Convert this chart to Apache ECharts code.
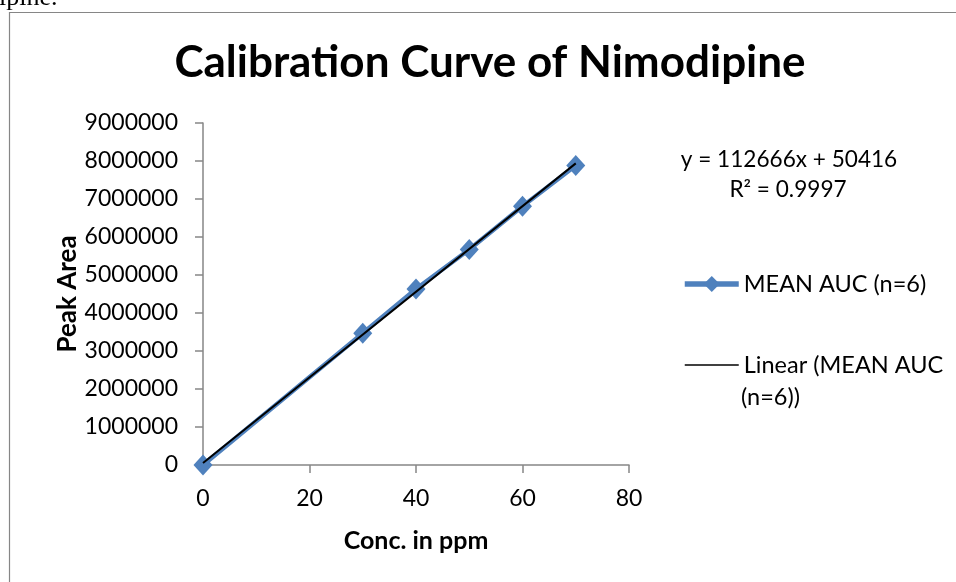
<!DOCTYPE html>
<html>
<head>
<meta charset="utf-8">
<script src="https://cdn.jsdelivr.net/npm/echarts@6/dist/echarts.min.js"></script>
<style>
html,body{margin:0;padding:0;background:#fff;}
#c{width:956px;height:582px;}
</style>
</head>
<body>
<div id="c"></div>
<script>
// Data
const concentrations = [0, 30, 40, 50, 60, 70];
const meanAUC = [0, 3470000, 4630000, 5670000, 6810000, 7880000];
const trendX = [0, 70];
const trendY = [50416, 7937036];
const equationText = 'y = 112666x + 50416';
const r2Text = 'R² = 0.9997';
const seriesName = 'MEAN AUC (n=6)';
const trendName = 'Linear (MEAN AUC (n=6))';

const FONT = 'Lato';
const chart = echarts.init(document.getElementById('c'), null, {renderer: 'canvas'});

const option = {
  backgroundColor: '#ffffff',
  animation: false,
  title: {
    text: 'Calibra\u200Ction Curve of Nimodipine',
    left: 490,
    top: 41,
    padding: 0,
    textAlign: 'center',
    textStyle: {fontFamily: FONT, fontSize: 44, fontWeight: 'bold', color: '#000'}
  },
  grid: {left: 203, right: 327, top: 123, bottom: 117, containLabel: false},
  xAxis: {
    type: 'value',
    min: 0, max: 80, interval: 20,
    name: 'Conc. in ppm',
    nameLocation: 'middle',
    nameGap: 63,
    nameTextStyle: {fontFamily: FONT, fontSize: 25, fontWeight: 'bold', color: '#000'},
    axisLine: {show: true, lineStyle: {color: '#868686', width: 1.5}},
    axisTick: {show: true, length: 8, inside: false, lineStyle: {color: '#868686', width: 1.5}},
    axisLabel: {fontFamily: FONT, fontSize: 23, color: '#000', margin: 22},
    splitLine: {show: false}
  },
  yAxis: {
    type: 'value',
    min: 0, max: 9000000, interval: 1000000,
    name: 'Peak Area',
    nameLocation: 'middle',
    nameGap: 122,
    nameTextStyle: {fontFamily: FONT, fontSize: 26, fontWeight: 'bold', color: '#000'},
    axisLine: {show: true, lineStyle: {color: '#868686', width: 1.5}},
    axisTick: {show: true, length: 8, inside: false, lineStyle: {color: '#868686', width: 1.5}},
    axisLabel: {fontFamily: FONT, fontSize: 23, color: '#000', margin: 25,
      formatter: function (v) { return String(v); }},
    splitLine: {show: false}
  },
  legend: {
    orient: 'vertical',
    left: 682,
    top: 272,
    padding: 0,
    itemWidth: 54,
    itemHeight: 20,
    itemGap: 57,
    textStyle: {fontFamily: FONT, fontSize: 23.5, color: '#000'},
    formatter: function (name) {
      return name === trendName ? 'Linear (MEAN AUC' : name;
    },
    data: [
      {name: seriesName, lineStyle: {width: 5.5, color: '#4F81BD'}},
      {name: trendName, lineStyle: {width: 1.5, color: '#000'},
       itemStyle: {opacity: 0, color: 'rgba(0,0,0,0)', borderWidth: 0}}
    ]
  },
  series: [
    {
      name: seriesName,
      type: 'line',
      data: concentrations.map((x, i) => [x, meanAUC[i]]),
      symbol: 'diamond',
      symbolSize: [19, 21],
      lineStyle: {color: '#4F81BD', width: 4.5},
      itemStyle: {color: '#4F81BD'},
      z: 2
    },
    {
      name: trendName,
      type: 'line',
      data: trendX.map((x, i) => [x, trendY[i]]),
      symbol: 'none',
      lineStyle: {color: '#000', width: 2},
      itemStyle: {color: '#000'},
      z: 3
    }
  ],
  graphic: [
    {type: 'rect', shape: {x: 9.5, y: 12.5, width: 1000, height: 700},
     style: {fill: 'none', stroke: '#868686', lineWidth: 1.2}, z: -1, silent: true},
    {type: 'text', x: -1, y: 11,
     style: {text: 'ipine.', font: '26px "Liberation Serif"', fill: '#000', verticalAlign: 'bottom'}},
    {type: 'text', x: 789, y: 160,
     style: {text: equationText, font: '22.6px Lato', fill: '#000', align: 'center', verticalAlign: 'middle'}},
    {type: 'text', x: 788, y: 190,
     style: {text: r2Text, font: '22.6px Lato', fill: '#000', align: 'center', verticalAlign: 'middle'}},
    {type: 'text', x: 741, y: 397,
     style: {text: '(n=6))', font: '23.5px Lato', fill: '#000', verticalAlign: 'middle'}}
  ]
};
chart.setOption(option);
</script>
</body>
</html>
